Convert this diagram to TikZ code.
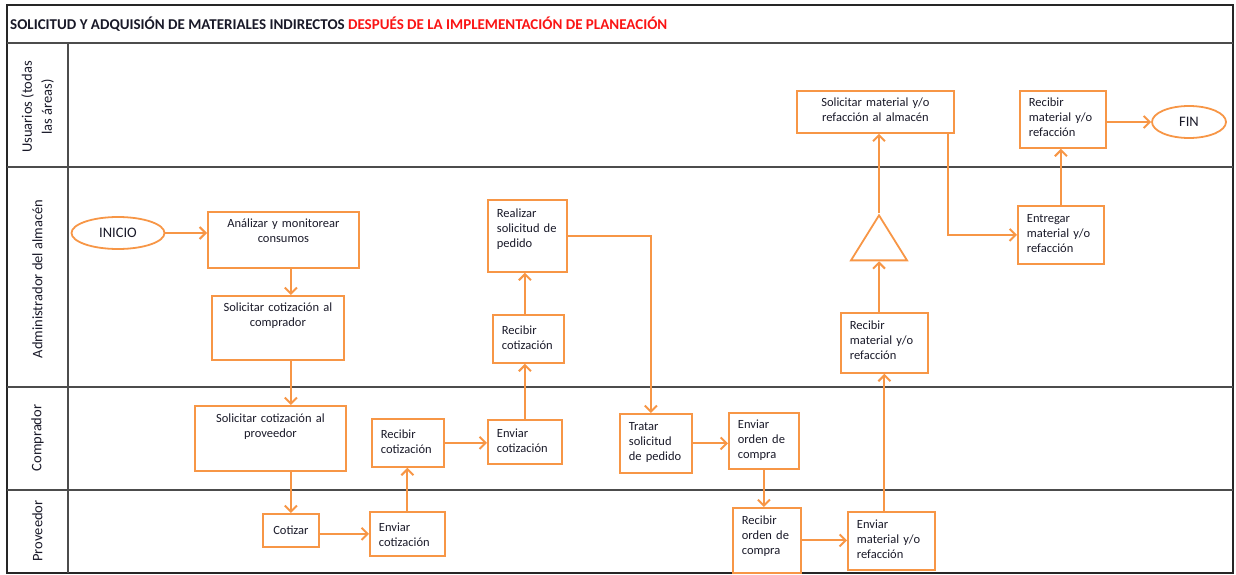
\documentclass[tikz,border=0pt]{standalone}
\usepackage{fontspec}
\setmainfont{Carlito}
\usetikzlibrary{arrows.meta,shapes.geometric}
\definecolor{accent}{RGB}{247,150,70}
\definecolor{titlered}{RGB}{250,20,20}
\definecolor{ink}{RGB}{25,25,40}

\begin{document}
\begin{tikzpicture}[x=1pt,y=-1pt]
    \tikzstyle{frame}=[draw=black!85,line width=2.4pt]
    \tikzstyle{laneline}=[draw=black!70,line width=1.2pt]
    \tikzstyle{lanelabel}=[rotate=90,align=center,text=ink,font=\fontsize{14.5}{20}\selectfont]
    \tikzstyle{task}=[draw=accent,line width=1.8pt,anchor=north west,align=left,inner xsep=9pt,inner ysep=0pt,text=ink,font=\fontsize{12.5}{15}\selectfont]
    \tikzstyle{terminal}=[draw=accent,line width=1.8pt,ellipse,minimum height=32pt,text=ink,font=\fontsize{14.5}{17}\selectfont]
    \tikzstyle{flow}=[draw=accent,line width=2pt,-{Straight Barb[length=6pt,width=12pt]}]
    \useasboundingbox (0,0) rectangle (1236,575);

    % lanes
    \draw[frame] (7,5) rectangle (1233,573);
    \draw[laneline] (7,43) -- (1233,43);
    \draw[laneline] (68,43) -- (68,573);
    \foreach \y in {167,387,490}
        \draw[laneline] (7,\y) -- (1233,\y);

    \node[anchor=west,inner sep=0pt,text=ink,font=\fontsize{15}{18}\selectfont\bfseries] (title) at (10,24)
        {SOLICITUD Y ADQUISIÓN DE MATERIALES INDIRECTOS \textcolor{titlered}{DESPUÉS DE LA IMPLEMENTACIÓN DE PLANEACIÓN}};

    \foreach \name/\y/\txt in {usuarios/107/{Usuarios (todas\\las áreas)}, almacen/279/{Administrador del almacén}, comprador/438/Comprador, proveedor/531/Proveedor}
        \node[lanelabel] (lane-\name) at (37.5,\y) {\txt};

    % start / end
    \node[terminal,minimum width=93pt] (inicio) at (118,233) {INICIO};
    \node[terminal,minimum width=74pt] (fin) at (1189,122) {FIN};

    % tasks
    \node[task,align=center,text width=133pt,text height=16pt,text depth=40pt] (analizar) at (207,211) {Análizar y monitorear\\consumos};
    \node[task,align=center,text width=114pt,text height=16pt,text depth=48pt] (solcomp) at (211,295) {Solicitar cotización al\\comprador};
    \node[task,align=center,text width=133pt,text height=17pt,text depth=48pt] (solprov) at (194,405) {Solicitar cotización al\\proveedor};
    \node[task,align=center,text width=38pt,text height=21pt,text depth=12pt] (cotizar) at (262,513) {Cotizar};
    \node[task,text width=57pt,text height=20pt,text depth=24pt] (envcotprov) at (369,511) {Enviar\\cotización};
    \node[task,text width=54pt,text height=20pt,text depth=28pt] (reccotcomp) at (371,418) {Recibir\\cotización};
    \node[task,text width=56pt,text height=18pt,text depth=26pt] (envcotcomp) at (487,419) {Enviar\\cotización};
    \node[task,text width=53pt,text height=20pt,text depth=28pt] (reccotadm) at (492,314) {Recibir\\cotización};
    \node[task,text width=61pt,text height=18pt,text depth=54pt] (realizar) at (487,199) {Realizar\\solicitud de\\pedido};
    \node[task,text width=54pt,text height=17pt,text depth=42pt] (tratar) at (619,413) {Tratar\\solicitud\\de pedido};
    \node[task,text width=52pt,text height=16pt,text depth=40pt] (envorden) at (728,412) {Enviar\\orden de\\compra};
    \node[task,text width=50pt,text height=17pt,text depth=48pt] (recorden) at (732,507) {Recibir\\orden de\\compra};
    \node[task,text width=69pt,text height=17pt,text depth=41pt] (envmat) at (847,511) {Enviar\\material y/o\\refacción};
    \node[task,text width=69pt,text height=17pt,text depth=43pt] (recmatadm) at (840,312) {Recibir\\material y/o\\refacción};
    \node[draw=accent,line width=1.8pt,isosceles triangle,shape border rotate=90,isosceles triangle stretches,
          minimum width=56pt,minimum height=45pt,inner sep=0pt,anchor=apex] (tri) at (879,213) {};
    \node[task,align=center,text width=139pt,text height=16pt,text depth=26pt] (solmat) at (796,90) {Solicitar material y/o\\refacción al almacén};
    \node[task,text width=68pt,text height=17pt,text depth=41pt] (entregar) at (1017,205) {Entregar\\material y/o\\refacción};
    \node[task,text width=68pt,text height=16pt,text depth=41pt] (recmatusr) at (1019,90) {Recibir\\material y/o\\refacción};

    % connectors
    \draw[flow] (inicio.east) -- (inicio.east -| analizar.west);
    \draw[flow] (analizar.south -| cotizar.north) -- (solcomp.north -| cotizar.north);
    \draw[flow] (solcomp.south -| cotizar.north) -- (solprov.north -| cotizar.north);
    \draw[flow] (solprov.south -| cotizar.north) -- (cotizar.north);
    \draw[flow] (cotizar.east |- envcotprov.west) -- (envcotprov.west);
    \draw[flow] (envcotprov.north) -- (envcotprov.north |- reccotcomp.south);
    \draw[flow] (reccotcomp.east) -- (reccotcomp.east -| envcotcomp.west);
    \draw[flow] (envcotcomp.north) -- (envcotcomp.north |- reccotadm.south);
    \draw[flow] (reccotadm.north -| envcotcomp.north) -- (realizar.south -| envcotcomp.north);
    \draw[flow] (realizar.east) -| ([xshift=-5pt]tratar.north);
    \draw[flow] (tratar.east) -- (tratar.east -| envorden.west);
    \draw[flow] (envorden.south) -- (envorden.south |- recorden.north);
    \draw[flow] (recorden.east) -- (recorden.east -| envmat.west);
    \draw[flow] (envmat.north -| recmatadm.south) -- (recmatadm.south);
    \draw[flow] (recmatadm.north -| tri.apex) -- (tri.lower side);
    \draw[flow] (tri.apex) -- (tri.apex |- solmat.south);
    \draw[flow] ([xshift=-7pt]solmat.south east) |- (entregar.west);
    \draw[flow] (entregar.north) -- (entregar.north |- recmatusr.south);
    \draw[flow] (recmatusr.east |- fin.west) -- (fin.west);
\end{tikzpicture}
\end{document}
